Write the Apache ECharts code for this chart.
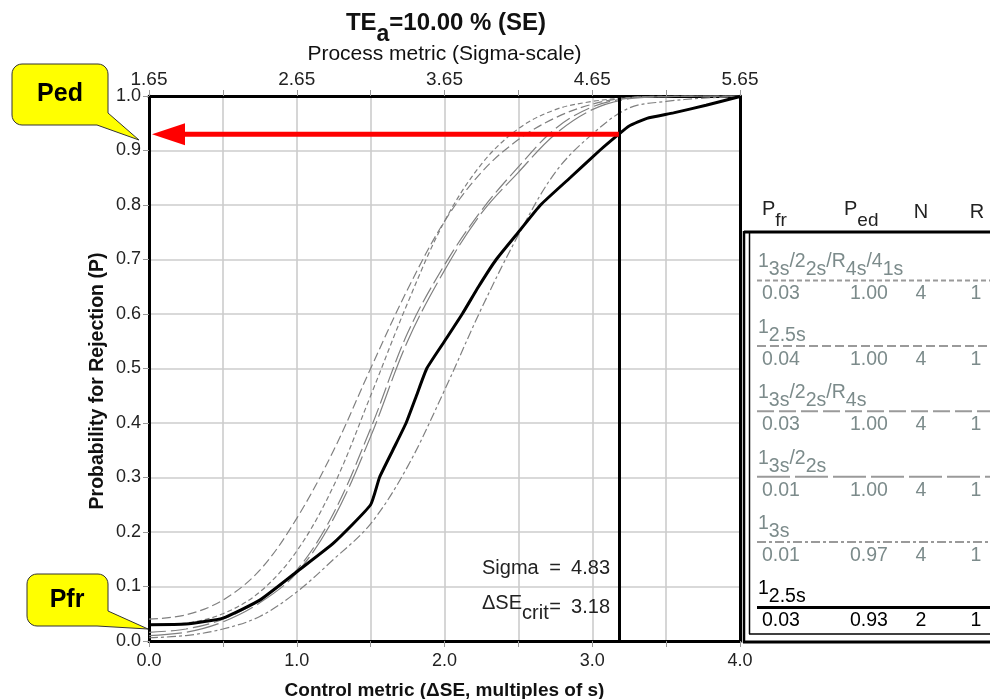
<!DOCTYPE html>
<html><head><meta charset="utf-8">
<script src="https://cdn.jsdelivr.net/npm/echarts@6/dist/echarts.min.js"></script>
<style>html,body{margin:0;padding:0;background:#fff}#c{width:990px;height:699px}</style>
</head><body><div id="c"></div>
<script>
const SANS = "'Liberation Sans',Arial,sans-serif";

// ---- data ----
const xGrid = [0,0.25,0.5,0.75,1.0,1.25,1.5,1.75,2.0,2.25,2.5,2.75,3.0,3.25,3.5,3.75,4.0];
const p_13s22sR4s41s = [0.03,0.033,0.05,0.09,0.165,0.285,0.45,0.62,0.77,0.875,0.94,0.975,0.99,0.997,1.0,1.0,1.0];
const p_125s_N4      = [0.04,0.048,0.075,0.13,0.225,0.35,0.50,0.645,0.77,0.86,0.92,0.96,0.985,0.997,0.999,1.0,1.0];
const p_13s22sR4s    = [0.016,0.022,0.04,0.075,0.13,0.235,0.39,0.565,0.69,0.79,0.87,0.94,0.98,0.996,0.999,1.0,1.0];
const p_13s22s       = [0.01,0.016,0.035,0.07,0.125,0.225,0.375,0.55,0.68,0.785,0.86,0.93,0.975,0.995,0.999,1.0,1.0];
const p_13s          = [0.006,0.01,0.022,0.045,0.09,0.15,0.215,0.32,0.46,0.61,0.745,0.86,0.93,0.978,0.99,0.996,0.999];
const blackX    = [0,0.25,0.5,0.75,1.0,1.25,1.5,1.56,1.65,1.74,1.81,1.88,2.0,2.12,2.23,2.35,2.5,2.65,2.85,3.05,3.18,3.25,3.37,3.55,3.77,4.0];
const p_125s_N2 = [0.03,0.031,0.042,0.075,0.127,0.18,0.25,0.3,0.35,0.4,0.45,0.5,0.55,0.6,0.65,0.7,0.75,0.8,0.85,0.9,0.93,0.945,0.959,0.969,0.983,0.999];

const sigmaOffset = 1.65;     // top axis = bottom axis + 1.65
const sigmaValue = 4.83;
const deltaSEcrit = 3.18;
const pedSelected = 0.93;

const ruleNames = ['1_3s/2_2s/R_4s/4_1s','1_2.5s','1_3s/2_2s/R_4s','1_3s/2_2s','1_3s','1_2.5s'];
const tablePfr = ['0.03','0.04','0.03','0.01','0.01','0.03'];
const tablePed = ['1.00','1.00','1.00','1.00','0.97','0.93'];
const tableN = ['4','4','4','4','4','2'];
const tableR = ['1','1','1','1','1','1'];
const ruleDash = [[5,3],[9,4],[17,5],[33,5],[9,3,3,3],'solid'];

const greyCurves = [p_13s22sR4s41s, p_125s_N4, p_13s22sR4s, p_13s22s, p_13s];

// ---- chart ----
const chart = echarts.init(document.getElementById('c'), null, {renderer:'canvas'});
const pairs = (xs, ys) => xs.map((x,i)=>[x, ys[i]]);
const GRID_LINE = {show:true, showMinLine:false, showMaxLine:false, lineStyle:{color:'#cccccc', width:1.6}};

const series = greyCurves.map((ys,i)=>({
  type:'line', data: pairs(xGrid, ys), smooth:0.35, showSymbol:false, silent:true,
  lineStyle:{color:'#808080', width:1.2, type: ruleDash[i]}, z:3
}));
series.push({
  type:'line', data: pairs(blackX, p_125s_N2), smooth:0.15, showSymbol:false, silent:true,
  lineStyle:{color:'#000', width:3}, z:4,
  markLine:{silent:true, symbol:'none', label:{show:false}, animation:false,
    lineStyle:{color:'#000', width:3, type:'solid'}, data:[{xAxis: deltaSEcrit}]}
});

function ruleRich(name){
  return name.split('/').map(part=>{
    const [b,s] = part.split('_');
    return '{b|'+b+'}' + (s ? '{s|'+s+'}' : '');
  }).join('{b|/}');
}
// base / subscript styles: both tokens equal height, subscript shifted down by `shift`
function subRich(family, size, subSize, weight, col, lh, shift){
  return {
    b:{fontFamily:family, fontWeight:weight, fontSize:size, lineHeight:lh, padding:[0,0,shift,0], fill:col},
    s:{fontFamily:family, fontWeight:weight, fontSize:subSize, lineHeight:lh, padding:[shift,0,0,0], fill:col}
  };
}

chart.setOption({
  animation:false,
  grid:{left:149, right:250, top:96, bottom:58, containLabel:false, outerBoundsMode:'none'},
  xAxis:[
    {type:'value', position:'bottom', min:0, max:4, interval:0.5,
     axisLine:{show:true, onZero:false, lineStyle:{color:'#000', width:3}},
     axisTick:{show:true, length:6, lineStyle:{color:'#999'}},
     axisLabel:{margin:11, fontFamily:SANS, fontSize:18, color:'#222',
       formatter:v=>Number.isInteger(v)? v.toFixed(1):''},
     splitLine:GRID_LINE,
     name:'Control metric (\u0394SE, multiples of s)', nameLocation:'middle', nameGap:40,
     nameTextStyle:{fontFamily:SANS, fontWeight:'bold', fontSize:19, color:'#111'}},
    {type:'value', position:'top', min:0, max:4, interval:0.5,
     axisLine:{show:true, onZero:false, lineStyle:{color:'#000', width:3}},
     axisTick:{show:true, length:6, lineStyle:{color:'#999'}},
     axisLabel:{margin:7, fontFamily:SANS, fontSize:19, color:'#222',
       formatter:v=>Number.isInteger(v)? (v+sigmaOffset).toFixed(2):''},
     splitLine:{show:false},
     name:'Process metric (Sigma-scale)', nameLocation:'middle', nameGap:25,
     nameTextStyle:{fontFamily:SANS, fontSize:21, color:'#111'}}
  ],
  yAxis:[
    {type:'value', position:'left', min:0, max:1, interval:0.1,
     axisLine:{show:true, onZero:false, lineStyle:{color:'#000', width:3}},
     axisTick:{show:true, length:6, lineStyle:{color:'#999'}},
     axisLabel:{margin:8, fontFamily:SANS, fontSize:18, color:'#222', formatter:v=>v.toFixed(1)},
     splitLine:GRID_LINE},
    {type:'value', position:'right', min:0, max:1, interval:0.1,
     axisLine:{show:true, onZero:false, lineStyle:{color:'#000', width:3}},
     axisTick:{show:false}, axisLabel:{show:false}, splitLine:{show:false}}
  ],
  series
});

// ---- annotations & table (layout) ----
const g = [];
// title
g.push({type:'text', x:446, y:17, z:10, style:{
  text:'{b|TE}{s|a}{b|=10.00 % (SE)}', textAlign:'center', textVerticalAlign:'top',
  rich: subRich(SANS, 24, 23, 'bold', '#111', 24, 11)
}});
// y axis name
g.push({type:'text', x:98, y:381, rotation:Math.PI/2, z:10, style:{
  text:'Probability for Rejection (P)', textAlign:'center', textVerticalAlign:'middle',
  font:'bold 19.5px '+SANS, fill:'#111'}});

// red arrow (positions through the chart's own scale)
const pTo = chart.convertToPixel({gridIndex:0}, [0, pedSelected]);
const pFrom = chart.convertToPixel({gridIndex:0}, [deltaSEcrit, pedSelected]);
g.push({type:'line', z:20, shape:{x1:pFrom[0], y1:pFrom[1], x2:pTo[0]+34, y2:pTo[1]},
  style:{stroke:'#ff0000', lineWidth:5}});
g.push({type:'polygon', z:20, shape:{points:[[pTo[0]+3,pTo[1]],[pTo[0]+36,pTo[1]-11],[pTo[0]+36,pTo[1]+11]]},
  style:{fill:'#ff0000'}});

// Sigma / deltaSE text
const T = {fontFamily:SANS, fontSize:20, fill:'#222'};
g.push({type:'text', x:482, y:568, z:10, style:Object.assign({text:'Sigma', textVerticalAlign:'middle'},T)});
g.push({type:'text', x:555, y:568, z:10, style:Object.assign({text:'=', textAlign:'center', textVerticalAlign:'middle'},T)});
g.push({type:'text', x:610, y:568, z:10, style:Object.assign({text:sigmaValue.toFixed(2), textAlign:'right', textVerticalAlign:'middle'},T)});
g.push({type:'text', x:482, y:597, z:10, style:{text:'{b|\u0394SE}{s|crit}', textVerticalAlign:'top',
  rich: subRich(SANS, 20, 20, 'normal', '#222', 22, 10)}});
g.push({type:'text', x:555, y:607, z:10, style:Object.assign({text:'=', textAlign:'center', textVerticalAlign:'middle'},T)});
g.push({type:'text', x:610, y:607, z:10, style:Object.assign({text:deltaSEcrit.toFixed(2), textAlign:'right', textVerticalAlign:'middle'},T)});

// callouts (rounded box with a pointer)
function calloutPts(x0,y0,x1,y1,r,ya,xb,tip){
  const pts = [];
  const arc = (cx,cy,a0,a1)=>{ for(let k=0;k<=6;k++){ const a=(a0+(a1-a0)*k/6)*Math.PI/180; pts.push([cx+r*Math.cos(a), cy+r*Math.sin(a)]); } };
  arc(x1-r, y0+r, -90, 0);
  pts.push([x1, ya]); pts.push(tip); pts.push([xb, y1]);
  arc(x0+r, y1-r, 90, 180);
  arc(x0+r, y0+r, 180, 270);
  return pts;
}
g.push({type:'polygon', z:30, shape:{points:calloutPts(12,64,108,125,10,113,97,[139,140])},
  style:{fill:'#ffff00', stroke:'#333', lineWidth:1}});
g.push({type:'text', x:60, y:94, z:31, style:{text:'Ped', textAlign:'center', textVerticalAlign:'middle', font:'bold 25px '+SANS, fill:'#000'}});
g.push({type:'polygon', z:30, shape:{points:calloutPts(27,574,108,626,10,611,97,[148,629])},
  style:{fill:'#ffff00', stroke:'#333', lineWidth:1}});
g.push({type:'text', x:67, y:600, z:31, style:{text:'Pfr', textAlign:'center', textVerticalAlign:'middle', font:'bold 25px '+SANS, fill:'#000'}});

// table header
const HDR = '#222', GREY = '#7c8b8b';
g.push({type:'text', x:762, y:206, z:10, style:{text:'{b|P}{s|fr}', textVerticalAlign:'top', rich: subRich(SANS, 20, 19, 'normal', HDR, 18, 12)}});
g.push({type:'text', x:844, y:206, z:10, style:{text:'{b|P}{s|ed}', textVerticalAlign:'top', rich: subRich(SANS, 20, 19, 'normal', HDR, 18, 12)}});
g.push({type:'text', x:921, y:212, z:10, style:{text:'N', textAlign:'center', textVerticalAlign:'middle', font:'20px '+SANS, fill:HDR}});
g.push({type:'text', x:977, y:212, z:10, style:{text:'R', textAlign:'center', textVerticalAlign:'middle', font:'20px '+SANS, fill:HDR}});

// table frame
g.push({type:'line', z:10, shape:{x1:744,y1:232,x2:990,y2:232}, style:{stroke:'#000', lineWidth:3}});
g.push({type:'line', z:10, shape:{x1:744,y1:231,x2:744,y2:643}, style:{stroke:'#000', lineWidth:2.5}});
g.push({type:'line', z:10, shape:{x1:749.5,y1:233,x2:749.5,y2:634}, style:{stroke:'#000', lineWidth:1.5}});
g.push({type:'line', z:10, shape:{x1:749,y1:634,x2:990,y2:634}, style:{stroke:'#000', lineWidth:1.5}});
g.push({type:'line', z:10, shape:{x1:743,y1:642,x2:990,y2:642}, style:{stroke:'#000', lineWidth:3}});

// table rows
ruleNames.forEach((name,i)=>{
  const last = i === ruleNames.length-1;
  const col = last ? '#000' : GREY;
  const base = 252 + i*65.4;
  g.push({type:'text', x:758, y:base+5, z:10, style:{text:ruleRich(name), textVerticalAlign:'top', rich: subRich(SANS, 19.5, 19.5, 'normal', col, 18, 8)}});
  g.push({type:'line', z:10, shape:{x1:757,y1:base+28.5,x2:990,y2:base+28.5},
    style:{stroke: last ? '#000' : '#9a9a9a', lineWidth: last ? 3 : 2, lineDash: last ? null : ruleDash[i]}});
  const vy = base + 42;
  const vs = {font:'19.5px '+SANS, fill:col, textVerticalAlign:'middle'};
  g.push({type:'text', x:762, y:vy, z:10, style:Object.assign({text:tablePfr[i]},vs)});
  g.push({type:'text', x:850, y:vy, z:10, style:Object.assign({text:tablePed[i]},vs)});
  g.push({type:'text', x:921, y:vy, z:10, style:Object.assign({text:tableN[i], textAlign:'center'},vs)});
  g.push({type:'text', x:976, y:vy, z:10, style:Object.assign({text:tableR[i], textAlign:'center'},vs)});
});

chart.setOption({graphic:{elements:g}});
</script></body></html>
